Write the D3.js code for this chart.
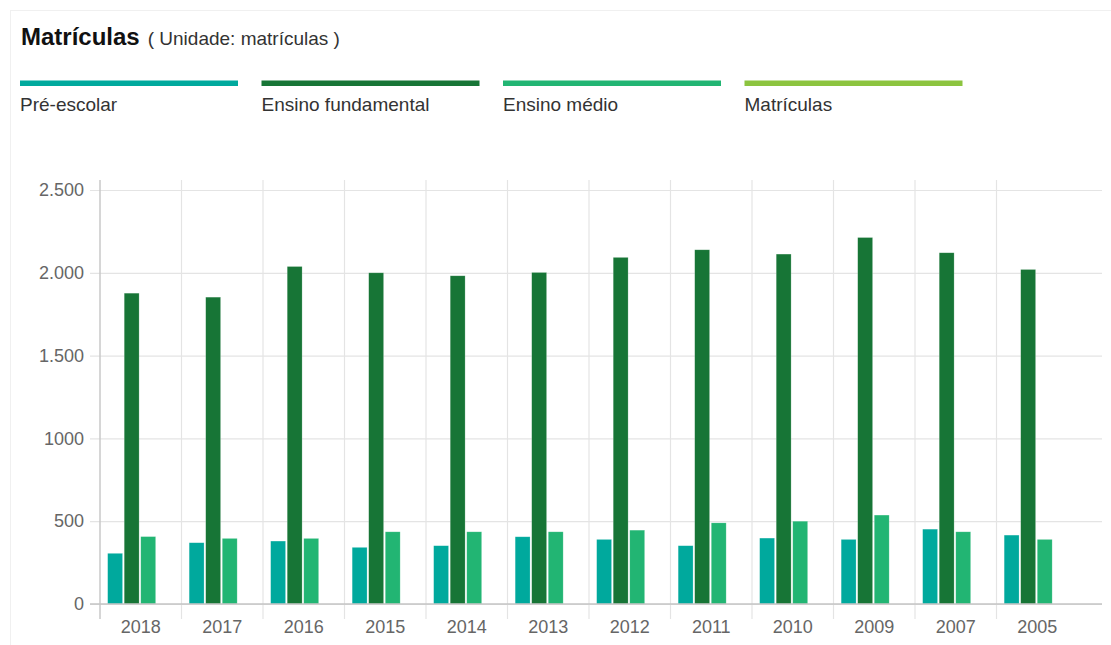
<!DOCTYPE html>
<html>
<head>
<meta charset="utf-8">
<script src="https://cdn.jsdelivr.net/npm/d3@7"></script>
<style>
  html, body { margin: 0; padding: 0; background: #fff; }
  svg { display: block; font-family: "Liberation Sans", Arial, sans-serif; }
</style>
</head>
<body>
<svg id="chart" width="1111" height="645"></svg>
<script>
const years = ["2018","2017","2016","2015","2014","2013","2012","2011","2010","2009","2007","2005"];
const preEscolar = [306, 370, 380, 342, 352, 406, 390, 352, 398, 390, 452, 416];
const ensinoFundamental = [1877, 1853, 2038, 2000, 1982, 2002, 2093, 2139, 2113, 2213, 2121, 2020];
const ensinoMedio = [407, 396, 396, 436, 436, 436, 446, 490, 500, 537, 436, 390];
const matriculas = [null, null, null, null, null, null, null, null, null, null, null, null];
const seriesNames = ["Pré-escolar", "Ensino fundamental", "Ensino médio", "Matrículas"];
const seriesColors = ["#00a99d", "#177536", "#22b573", "#8cc43f"];
const yTickValues = [0, 500, 1000, 1500, 2000, 2500];
const yTickLabels = ["0", "500", "1000", "1.500", "2.000", "2.500"];
const titleText = "Matrículas";
const subtitleText = "( Unidade: matrículas )";

const seriesValues = [preEscolar, ensinoFundamental, ensinoMedio, matriculas];

const svg = d3.select("#chart");

// card border
svg.append("rect").attr("x", 10.5).attr("y", 10.5).attr("width", 1110).attr("height", 640)
  .attr("fill", "none").attr("stroke", "#f0f0f0");

// title
const t1 = svg.append("text").attr("x", 21).attr("y", 45).text(titleText)
  .attr("font-size", 24).attr("font-weight", "bold").attr("fill", "#111");
const tw = t1.node().getComputedTextLength();
svg.append("text").attr("x", 21 + tw + 8).attr("y", 45).text(subtitleText)
  .attr("font-size", 19).attr("fill", "#333");

// legend
const legendX = d3.scaleBand().domain(seriesNames).range([20, 20 + 241.5 * 4]);
const lg = svg.append("g").selectAll("g").data(seriesNames).join("g")
  .attr("transform", d => `translate(${legendX(d)},0)`);
lg.append("rect").attr("x", 0).attr("y", 80.5).attr("width", 218).attr("height", 5.5)
  .attr("fill", (d, i) => seriesColors[i]);
lg.append("text").attr("x", 0).attr("y", 111).attr("font-size", 19).attr("fill", "#333").text(d => d);

// scales
const plotLeft = 100, plotRight = 1102, bandEnd = 1078;
const y = d3.scaleLinear().domain([0, 2500]).range([604, 190]);
const x0 = d3.scaleBand().domain(years).range([plotLeft, bandEnd]).padding(0);
const bw = x0.bandwidth();
const x1 = d3.scaleBand().domain(seriesNames).range([bw * 0.094, bw * 0.886]).paddingInner(0.1);

// horizontal gridlines + left ticks
const yAxis = d3.axisLeft(y).tickValues(yTickValues)
  .tickFormat((d, i) => yTickLabels[i])
  .tickSize(-(plotRight - plotLeft) - 10).tickPadding(6);
const gy = svg.append("g").attr("transform", `translate(${plotLeft},0)`).call(yAxis);
gy.select(".domain").remove();
gy.selectAll(".tick line").attr("x1", -10).attr("x2", plotRight - plotLeft).attr("stroke", "#e4e4e4").attr("stroke-width", 1.2);
gy.selectAll(".tick text").attr("font-size", 18).attr("fill", "#666").attr("x", -16)
  .attr("font-family", "Liberation Sans, Arial, sans-serif");

// vertical gridlines at band boundaries
const boundaries = years.map(d => x0(d));
svg.append("g").selectAll("line").data(boundaries).join("line")
  .attr("x1", d => d).attr("x2", d => d).attr("y1", 180).attr("y2", 619)
  .attr("stroke", (d, i) => i === 0 ? "#c8c8c8" : "#e4e4e4").attr("stroke-width", (d, i) => i === 0 ? 1.5 : 1.2);

// bars
const groups = svg.append("g").selectAll("g").data(years).join("g")
  .attr("transform", d => `translate(${x0(d)},0)`);
groups.selectAll("rect")
  .data((d, yi) => seriesNames.map((s, si) => ({ s, si, v: seriesValues[si][yi] })).filter(o => o.v != null))
  .join("rect")
  .attr("x", o => x1(o.s))
  .attr("width", x1.bandwidth())
  .attr("y", o => y(o.v))
  .attr("height", o => y(0) - y(o.v))
  .attr("fill", o => seriesColors[o.si])
  .attr("stroke", "#ffffff").attr("stroke-opacity", 0.35).attr("stroke-width", 0.6);

// x axis baseline
svg.append("line").attr("x1", plotLeft - 10).attr("x2", plotRight).attr("y1", y(0)).attr("y2", y(0))
  .attr("stroke", "#c4c4c4").attr("stroke-width", 1.5);

// x labels
const xAxis = d3.axisBottom(x0).tickSize(0).tickPadding(0);
const gx = svg.append("g").attr("transform", `translate(0,${y(0)})`).call(xAxis);
gx.select(".domain").remove();
gx.selectAll(".tick text").attr("font-size", 18).attr("fill", "#666").attr("dy", null).attr("y", 29)
  .attr("font-family", "Liberation Sans, Arial, sans-serif");
</script>
</body>
</html>
